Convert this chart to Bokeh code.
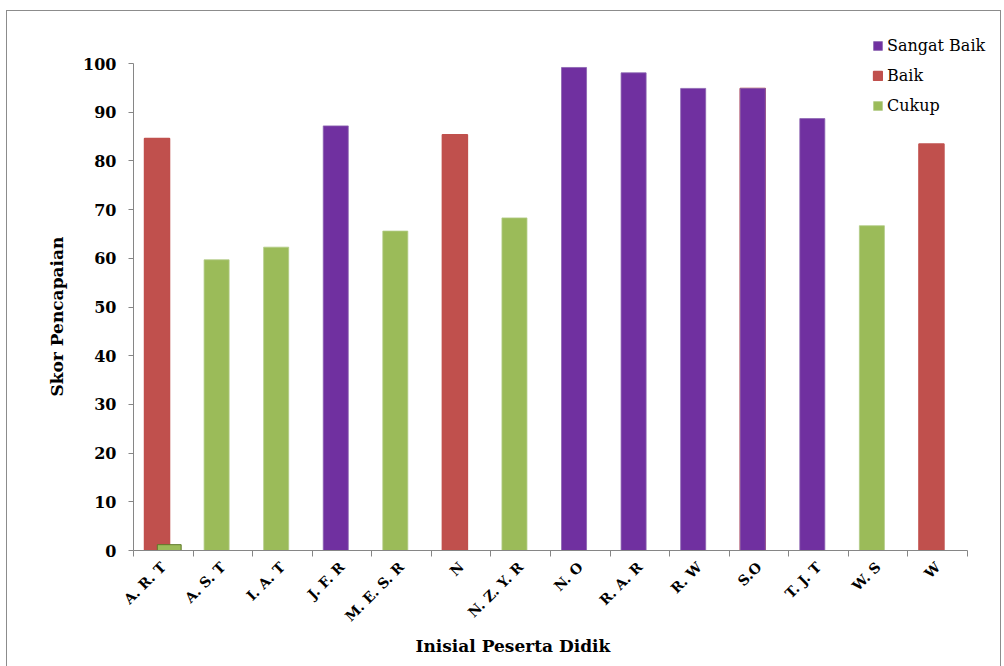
import math
from bokeh.plotting import figure
from bokeh.models import FixedTicker, Legend, LegendItem, ColumnDataSource, Title
from bokeh.embed import file_html
from bokeh.resources import INLINE

students = ["A. R. T", "A. S. T", "I. A. T", "J. F. R", "M. E. S. R", "N", "N. Z. Y. R",
            "N. O", "R. A. R", "R. W", "S.O", "T. J. T", "W. S", "W"]
sangat_baik = [0, 0, 0, 87.2, 0, 0, 0, 99.2, 98.1, 94.9, 94.9, 88.7, 0, 0]
baik = [84.6, 0, 0, 0, 0, 85.4, 0, 0, 0, 0, 94.9, 0, 0, 83.5]
cukup = [0, 59.7, 62.3, 0, 65.6, 0, 68.3, 0, 0, 0, 0, 0, 66.7, 0]
cukup_extra = [1.2, 0, 0, 0, 0, 0, 0, 0, 0, 0, 0, 0, 0, 0]
y_ticks = [0, 10, 20, 30, 40, 50, 60, 70, 80, 90, 100]

PURPLE = "#7030A0"
RED = "#C0504D"
GREEN = "#9BBB59"

n = len(students)
centers = [i + 0.5 for i in range(n)]
main_x = [c - 0.105 for c in centers]
extra_x = [c + 0.1 for c in centers]

# frame spans page y 20..549 (100 units = 486 px) and x 133..995 (1 unit = 59.57 px)
y_top = 100 + (63 - 20) / 4.86
x_end = n + (995 - 967) / 59.57

p = figure(width=993, height=656, x_range=(0, x_end), y_range=(0, y_top),
           output_backend="svg", toolbar_location=None,
           min_border_left=126, min_border_right=5, min_border_top=9, min_border_bottom=117,
           margin=(11, 0, 0, 7), styles={"outline": "1px solid #8c8c8c"})
p.outline_line_color = None
p.xgrid.visible = False
p.ygrid.visible = False
p.background_fill_color = "white"
p.border_fill_color = "white"

def src(vals, xs):
    return ColumnDataSource(dict(x=[x for x, v in zip(xs, vals) if v > 0],
                                 top=[v for v in vals if v > 0]))

r_baik = p.vbar(x="x", top="top", width=0.42, source=src(baik, main_x),
                fill_color=RED, line_color=RED, line_width=1.5)
r_sb = p.vbar(x="x", top="top", width=0.42, source=src(sangat_baik, main_x),
              fill_color=PURPLE, line_color="#8a63b0", line_width=0.8)
r_ck = p.vbar(x="x", top="top", width=0.42, source=src(cukup, main_x),
              fill_color=GREEN, line_color="#b3cc86", line_width=0.8)
p.vbar(x="x", top="top", width=0.40, source=src(cukup_extra, extra_x),
       fill_color=GREEN, line_color="#5f7a2a", line_width=1)

# y axis
ya = p.yaxis[0]
ya.ticker = FixedTicker(ticks=y_ticks)
ya.bounds = (0, 100)
ya.axis_line_color = "#868686"
ya.major_tick_line_color = "#868686"
ya.major_tick_out = 5
ya.major_tick_in = 0
ya.minor_tick_line_color = None
ya.major_label_text_font = "DejaVu Serif"
ya.major_label_text_font_style = "bold"
ya.major_label_text_font_size = "16px"
ya.major_label_text_color = "black"
ya.major_label_standoff = 12

# x axis
xa = p.xaxis[0]
xa.ticker = FixedTicker(ticks=centers, minor_ticks=list(range(n + 1)))
xa.major_label_overrides = {c: s for c, s in zip(centers, students)}
xa.bounds = (0, n)
xa.axis_line_color = "#868686"
xa.major_tick_out = 0
xa.major_tick_in = 0
xa.major_tick_line_color = None
xa.minor_tick_line_color = "#868686"
xa.minor_tick_out = 6
xa.minor_tick_in = 0
xa.major_label_orientation = math.pi / 4
xa.major_label_text_font = "DejaVu Serif"
xa.major_label_text_font_style = "bold"
xa.major_label_text_font_size = "14px"
xa.major_label_text_color = "black"
xa.major_label_standoff = 8

# axis titles (positioned under / beside the axis extent, not the whole frame)
x_title = Title(text="Inisial Peserta Didik", align="left", offset=282,
                vertical_align="top", standoff=4,
                text_font="DejaVu Serif", text_font_style="bold",
                text_font_size="17px", text_color="black")
p.add_layout(x_title, "below")
y_title = Title(text="Skor Pencapaian", align="left", offset=154,
                vertical_align="bottom", standoff=28,
                text_font="DejaVu Serif", text_font_style="bold",
                text_font_size="17px", text_color="black")
p.add_layout(y_title, "left")

legend = Legend(items=[LegendItem(label="Sangat Baik", renderers=[r_sb]),
                       LegendItem(label="Baik", renderers=[r_baik]),
                       LegendItem(label="Cukup", renderers=[r_ck])],
                location=(739, 434))
legend.label_text_font = "DejaVu Serif"
legend.label_text_font_size = "16px"
legend.label_text_color = "black"
legend.glyph_width = 11
legend.glyph_height = 11
legend.label_height = 22
legend.spacing = 8
legend.label_standoff = 4
legend.padding = 0
legend.margin = 0
legend.border_line_color = None
legend.background_fill_alpha = 0
p.add_layout(legend, "center")

open("out.html", "w").write(file_html(p, INLINE))
